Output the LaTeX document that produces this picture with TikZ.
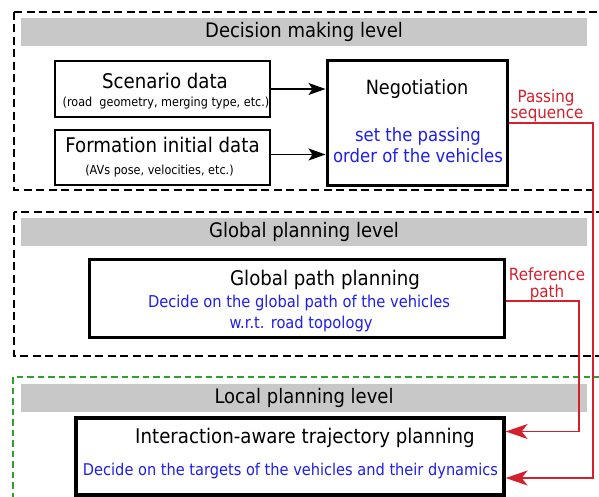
\documentclass[tikz,border=0pt]{standalone}
\usepackage{fontspec}
\setmainfont{DejaVu Sans}[FakeStretch=0.9]
\usetikzlibrary{arrows.meta}
\definecolor{barfill}{RGB}{200,200,200}
\definecolor{bluetxt}{RGB}{30,30,235}
\definecolor{redln}{RGB}{212,32,44}
\definecolor{greendash}{RGB}{45,160,45}
\newcommand{\fs}[2]{\fontsize{#1}{#2}\selectfont}
\begin{document}
\begin{tikzpicture}[x=1pt,y=-1pt,
  lvl/.style={draw=black, line width=1.4pt, dash pattern=on 8pt off 4.5pt},
  lvlg/.style={draw=greendash, line width=1.2pt, dash pattern=on 6.5pt off 4pt},
  bar/.style={fill=barfill, inner sep=0pt, minimum width=566pt, minimum height=28pt, font=\fs{20}{22}},
  box/.style={draw=black, line width=2pt, inner sep=0pt},
  tbox/.style={draw=black, line width=3pt, inner sep=0pt},
  ttl/.style={anchor=base, inner sep=0pt, font=\fs{20.2}{22}},
  small/.style={anchor=base, inner sep=0pt, font=\fs{12.5}{14}},
  blu/.style={anchor=base, inner sep=0pt, text=bluetxt},
  redlab/.style={anchor=base, inner sep=0pt, text=redln, font=\fs{16.8}{14}},
  blk/.style={draw=black, line width=1.4pt, -{Stealth[length=17pt,width=12pt,inset=4pt]}},
  redarr/.style={draw=redln, line width=1.4pt, -{Stealth[length=22pt,width=15pt,inset=6pt]}}
]
\path[use as bounding box] (0,0) rectangle (599,497);
\clip (0,0) rectangle (599,497);

% level frames
\draw[lvl] (14,12) rectangle (615,190);
\draw[lvl] (14,212) rectangle (615,356);
\draw[lvlg] (13,377) rectangle (615,515);

% level bars
\node[bar] (bar1) at (304,32) {Decision making level};
\node[bar] (bar2) at (304,232) {Global planning level};
\node[bar] (bar3) at (304,398) {Local planning level};

% decision level boxes
\node[box, minimum width=215pt, minimum height=56pt] (scen) at (162.5,89) {};
\node[ttl] (scent) at (165,89) {Scenario data};
\node[small] (scens) at (166,107) {(road~~geometry, merging type, etc.)};

\node[box, minimum width=215pt, minimum height=55pt] (form) at (162.5,157.5) {};
\node[ttl] (formt) at (162.5,153) {Formation initial data};
\node[small] (forms) at (159.5,175) {(AVs pose, velocities, etc.)};

\node[tbox, minimum width=180pt, minimum height=124pt] (nego) at (417,123) {};
\node[ttl, font=\fs{19.6}{22}] (negot) at (417,95) {Negotiation};
\node[blu, font=\fs{18.3}{20}] (nego1) at (418,142) {set the passing};
\node[blu, font=\fs{18.3}{20}] (nego2) at (418,163) {order of the vehicles};

% global level
\node[tbox, minimum width=415pt, minimum height=78pt] (gpp) at (296.5,298) {};
\node[ttl] (gppt) at (325,285) {Global path planning};
\node[blu, font=\fs{16.3}{18}] (gpp1) at (299,307) {Decide on the global path of the vehicles};
\node[blu, font=\fs{16.3}{18}] (gpp2) at (301,328) {w.r.t. road topology};

% local level
\node[tbox, line width=3.3pt, minimum width=428pt, minimum height=77pt] (inter) at (290,456.5) {};
\node[ttl] (intert) at (305,443) {Interaction-aware trajectory planning};
\node[blu, font=\fs{16.2}{18}] (inter1) at (290.5,475) {Decide on the targets of the vehicles and their dynamics};

% red labels
\node[redlab, text depth=0pt] (pslab1) at (546,103) {Passing};
\node[redlab, text height=8.5pt] (pslab2) at (547,118.5) {sequence};
\node[redlab, text depth=0pt] (rplab1) at (547,280) {Reference};
\node[redlab, text height=9pt] (rplab2) at (547,297) {path};

% connectors
\draw[blk] (scen.east) -- (scen.east -| nego.west);
\draw[blk] ([yshift=3pt]form.east) -- ([yshift=3pt]form.east -| nego.west);

\coordinate (r1) at (593,0);
\coordinate (r2) at (579,0);
\draw[redarr] (nego.east) -- (nego.east -| r1) |- ([yshift=-21.5pt]inter.east);
\draw[redarr] ([yshift=-3pt]gpp.east) -- ([yshift=-3pt]gpp.east -| r2) |- ([yshift=25pt]inter.east);
\end{tikzpicture}
\end{document}
